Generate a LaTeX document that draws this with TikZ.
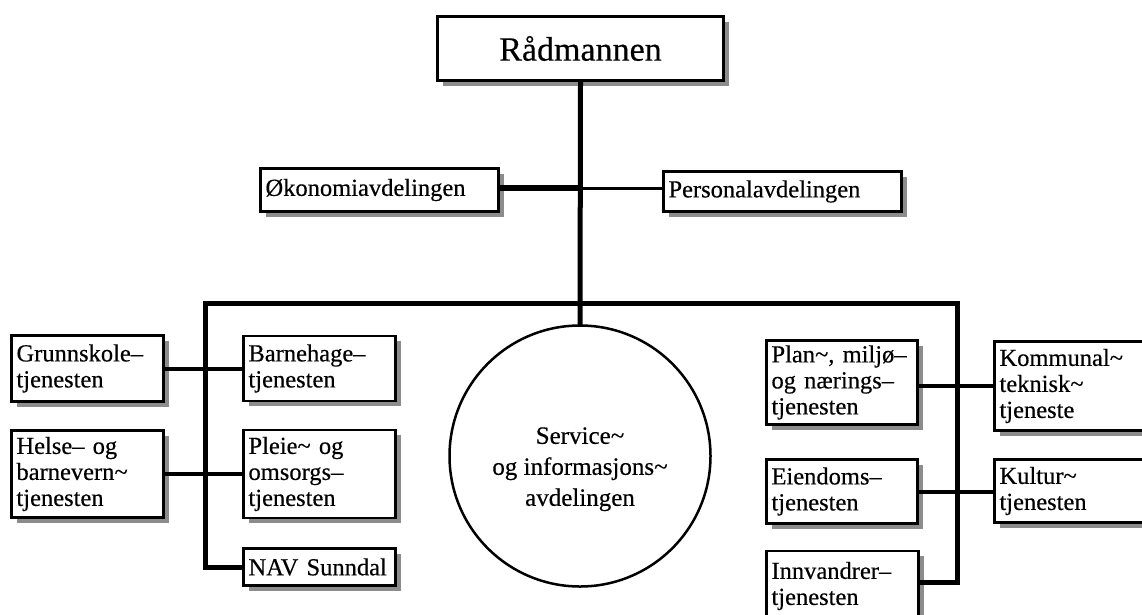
\documentclass[tikz,border=0pt]{standalone}
\usepackage{fontspec}
\setmainfont{Liberation Serif}[FakeBold=0.4]
\usetikzlibrary{shadows}
\newcommand{\swung}{\textasciitilde}
\tikzset{
  unit/.style={draw, line width=2.5pt, fill=white,
    drop shadow={shadow xshift=5pt, shadow yshift=-5pt, fill=black!45, opacity=1},
    font=\fontsize{24.5}{26}\selectfont, align=left,
    inner xsep=5pt, inner ysep=0pt, text width=142pt},
  trunk/.style={line width=5pt},
  branch/.style={line width=4pt},
}
\begin{document}
\begin{tikzpicture}[x=1pt,y=-1pt]
      \useasboundingbox (0,0) rectangle (1142,614);
      \clip (0,0) rectangle (1142,614);
      \draw
        (580.5,48.5) node[unit, align=center, text width=276pt, minimum height=64pt,
          font=\fontsize{34}{40}\selectfont] (rad){Rådmannen}
        (379.5,190) node[unit, text width=228pt, minimum height=43pt] (oko){Økonomiavdelingen}
        (782.5,191.5) node[unit, text width=228pt, minimum height=40pt] (pers){Personalavdelingen}
        (87.5,368.5) node[unit, minimum height=66pt] (grunn){Grunnskole–\\tjenesten}
        (319.5,368.5) node[unit, minimum height=65pt] (barn){Barnehage–\\tjenesten}
        (87.5,474) node[unit, minimum height=87pt] (helse){Helse– og\\barnevern\swung\\tjenesten}
        (319.5,474) node[unit, minimum height=88pt] (pleie){Pleie\swung{} og\\omsorgs–\\tjenesten}
        (319.5,567) node[unit, minimum height=37pt] (nav){NAV Sunndal}
        (842,382.5) node[unit, text width=141pt, minimum height=84pt] (plan){Plan\swung, miljø–\\og nærings–\\tjenesten}
        (1081.5,386) node[unit, text width=164pt, minimum height=89pt] (komm){Kommunal\swung\\teknisk\swung\\tjeneste}
        (842,491.5) node[unit, text width=141pt, minimum height=64pt] (eiend){Eiendoms–\\tjenesten}
        (1081.5,491) node[unit, text width=164pt, minimum height=63pt] (kult){Kultur\swung\\tjenesten}
        (842.5,586) node[unit, text width=142pt, minimum height=70pt] (innv){Innvandrer–\\tjenesten}
        (580,456) node[circle, draw, line width=2.5pt, minimum size=261pt, align=center,
          font=\fontsize{25}{31}\selectfont] (svc){\rule{0pt}{43pt}Service\swung\\og informasjons\swung\\avdelingen};
      \coordinate (mid) at (580,188);
      \coordinate (busl) at (205,303);
      \coordinate (busr) at (957,303);
      \begin{scope}[line cap=rect]
        \draw[trunk] (rad.south) to (svc.north);
        \draw[line width=6pt] (oko.east |- mid) to (mid);
        \draw[line width=3pt] (mid) to (pers.west |- mid);
        \draw[trunk] (nav.west) -| (busl) -- (busr) |- ([yshift=4pt]innv.east);
        \draw[branch] (grunn.east) to (barn.west);
        \draw[branch] (helse.east) to (pleie.west);
        \draw[branch] (komm.west) to (komm.west -| plan.east);
        \draw[branch] (eiend.east) to (eiend.east -| kult.west);
      \end{scope}
    \end{tikzpicture}
\end{document}
